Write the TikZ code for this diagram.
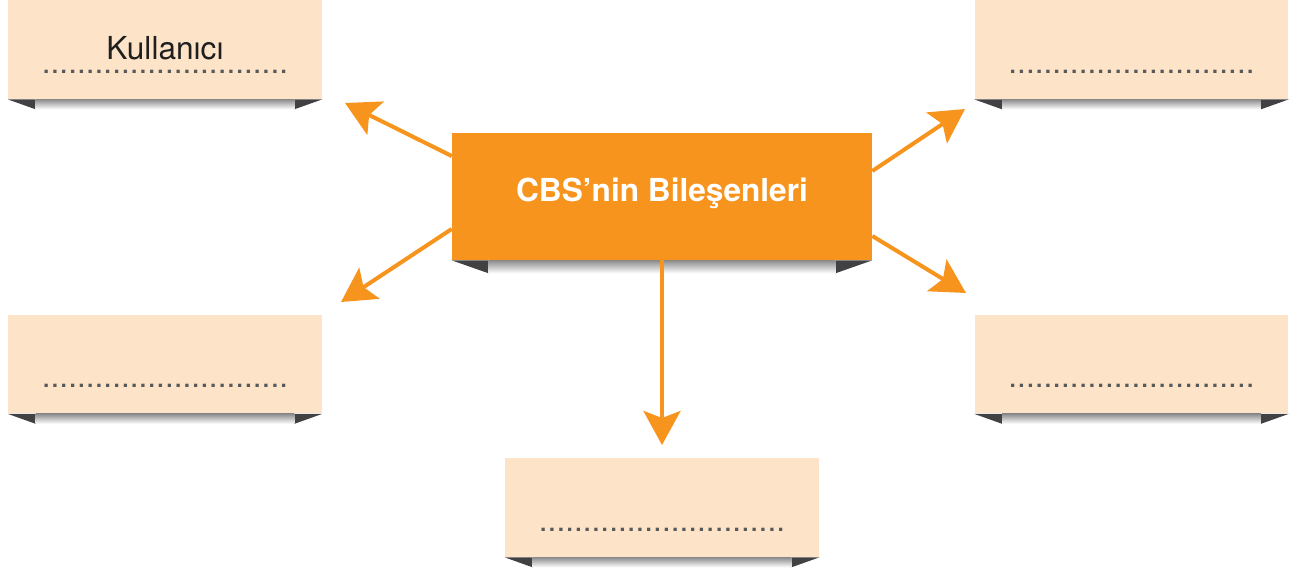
\documentclass[tikz,border=0pt]{standalone}
\usepackage{fontspec}
\setmainfont{TeX Gyre Heros}
\usetikzlibrary{arrows.meta,calc}
\definecolor{myorange}{HTML}{F7941D}
\definecolor{mypeach}{HTML}{FDE3C8}
\definecolor{mydarkgray}{HTML}{414042}
\definecolor{mydotgray}{HTML}{58595B}
\colorlet{mytext}{black!88}
\tikzstyle{component}=[fill=mypeach,minimum width=6.28cm,minimum height=1.98cm,inner sep=0]
\tikzstyle{title box}=[fill=myorange,minimum width=8.4cm,minimum height=2.54cm,inner sep=0]
\tikzstyle{entry}=[anchor=base,inner sep=0,font=\fontsize{18}{20}\selectfont]
\tikzstyle{blank}=[entry,mydotgray]
\tikzstyle{link}=[-{Stealth[length=0.68cm,width=0.74cm,inset=0.14cm]},myorange,line width=0.08cm]
\tikzstyle{fold}=[mydarkgray]
\tikzstyle{fold shade}=[top color=black!45,bottom color=white]
\def\foldshadow#1#2#3{ % dark corner folds and shadow under box #1
  \fill[fold] (#1.south west) --++ (#2,0) --++ (0,#3) -- cycle;
  \fill[fold] (#1.south east) --++ (-#2,0) --++ (0,#3) -- cycle;
  \shade[fold shade] (#1.south west) ++ (#2,0) rectangle ($(#1.south east)+(-#2,#3)$);
}
\begin{document}
\begin{tikzpicture}[x=0.02cm,y=-0.02cm]
  \useasboundingbox (0,0) rectangle (1295,572);
  
  % BOXES
  \node[component] (user)   at ( 165,  49.5) {};
  \node[component] (compNE) at (1131.5,49.5) {};
  \node[component] (compW)  at ( 165, 364) {};
  \node[component] (compE)  at (1131.5,364) {};
  \node[component] (compS)  at ( 662, 507.5) {};
  \node[title box] (cbs)    at ( 662, 196.5) {};
  
  % SHADOWS
  \foreach \b in {user,compNE,compW,compE,compS}{
    \foldshadow{\b}{28}{10}
  }
  \foldshadow{cbs}{37}{13}
  
  % TEXTS
  \node[entry,mytext] (user text) at ([yshift=0.8cm]user.south) {Kullanıcı};
  \foreach \b in {user,compNE,compW,compE,compS}
    \node[blank] (\b dots) at ([yshift=0.52cm]\b.south) {............................};
  \node[entry,white,font=\bfseries\fontsize{18}{20}\selectfont] (cbs text)
    at ([yshift=1.17cm]cbs.south) {CBS’nin Bileşenleri};
  
  % ARROWS
  \coordinate (tipNW) at (345,103);
  \coordinate (tipW)  at (341,302);
  \coordinate (tipNE) at (965,109);
  \coordinate (tipE)  at (966,293);
  \coordinate (tipS)  at (662,445);
  \draw[link] ([yshift=0.81cm]cbs.west)  -- (tipNW);
  \draw[link] ([yshift=-0.65cm]cbs.west) -- (tipW);
  \draw[link] ([yshift=0.51cm]cbs.east)  -- (tipNE);
  \draw[link] ([yshift=-0.79cm]cbs.east) -- (tipE);
  \draw[link] (cbs.south) -- (tipS);
  
\end{tikzpicture}
\end{document}
